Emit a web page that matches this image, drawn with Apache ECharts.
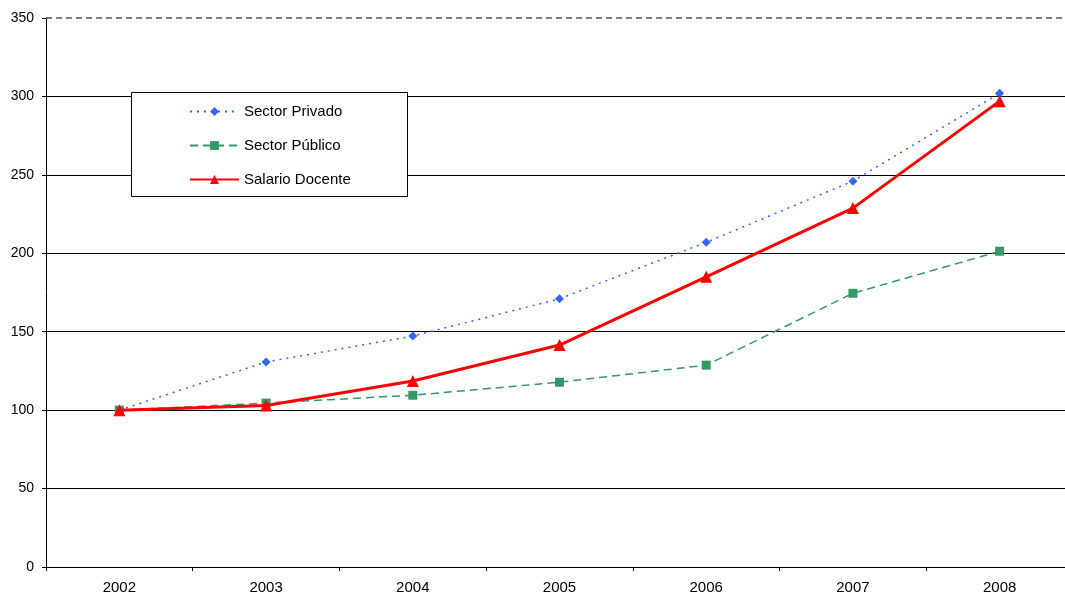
<!DOCTYPE html>
<html>
<head>
<meta charset="utf-8">
<script src="https://cdn.jsdelivr.net/npm/echarts@6/dist/echarts.min.js"></script>
<style>
  html, body { margin: 0; padding: 0; background: #fff; }
  #chart { width: 1065px; height: 596px; }
</style>
</head>
<body>
<div id="chart"></div>
<script>
// Index values (2002 = 100)
const years = ['2002', '2003', '2004', '2005', '2006', '2007', '2008'];
const sectorPrivado = [100, 130.7, 147.2, 171, 207, 246, 302];
const sectorPublico = [100, 104.5, 109.5, 117.8, 128.7, 174.5, 201.3];
const salarioDocente = [100, 103, 118.6, 141.5, 185, 228.8, 297];
const yTicks = { min: 0, max: 350, step: 50 };

const FONT = '"Liberation Sans", Arial, sans-serif';

const chart = echarts.init(document.getElementById('chart'), null, { renderer: 'canvas' });

chart.setOption({
  backgroundColor: '#fff',
  animation: false,
  textStyle: { fontFamily: FONT },
  // the plot runs slightly past the right edge of the canvas
  grid: {
    left: 46, top: 18, width: 1027, height: 549,
    containLabel: false,
    outerBoundsMode: 'none'
  },
  graphic: [{
    type: 'rect',
    left: 131, top: 92,
    shape: { width: 276, height: 104 },
    style: { fill: '#fff', stroke: '#000', lineWidth: 1 },
    z: 90
  }],
  legend: {
    orient: 'vertical',
    left: 189, top: 104,
    itemWidth: 49, itemHeight: 11, itemGap: 19,
    padding: 0,
    textStyle: { fontFamily: FONT, fontSize: 15, color: '#000' },
    z: 100,
    data: ['Sector Privado', 'Sector Público', 'Salario Docente']
  },
  xAxis: {
    type: 'category',
    data: years,
    boundaryGap: true,
    axisLine: { lineStyle: { color: '#000', width: 1 } },
    axisTick: { show: true, length: 4, lineStyle: { color: '#000' } },
    axisLabel: { color: '#000', fontSize: 15, fontFamily: FONT, margin: 13 },
    splitLine: { show: false }
  },
  yAxis: {
    type: 'value',
    min: yTicks.min, max: yTicks.max, interval: yTicks.step,
    axisLine: { show: true, lineStyle: { color: '#000', width: 1 } },
    axisTick: { show: true, length: 4, lineStyle: { color: '#000' } },
    axisLabel: { color: '#000', fontSize: 14, fontFamily: FONT, margin: 12 },
    splitLine: {
      show: true,
      lineStyle: { color: ['#000', '#000', '#000', '#000', '#000', '#000', '#000', 'transparent'], width: 1 }
    }
  },
  series: [
    {
      name: 'Sector Privado',
      type: 'line',
      data: sectorPrivado,
      color: '#3366ff',
      symbol: 'diamond',
      symbolSize: 9,
      lineStyle: { type: [2, 5], width: 1.5, color: '#3366ff' },
      itemStyle: { color: '#3366ff' },
      markLine: {
        silent: true,
        symbol: 'none',
        label: { show: false },
        lineStyle: { type: [6, 4], color: '#555', width: 1.5 },
        data: [{ yAxis: yTicks.max }]
      },
      z: 3
    },
    {
      name: 'Sector Público',
      type: 'line',
      data: sectorPublico,
      color: '#339966',
      symbol: 'rect',
      symbolSize: 9,
      lineStyle: { type: [8, 5], width: 1.5, color: '#339966' },
      itemStyle: { color: '#339966' },
      z: 4
    },
    {
      name: 'Salario Docente',
      type: 'line',
      data: salarioDocente,
      color: '#ff0000',
      symbol: 'triangle',
      symbolSize: 12,
      lineStyle: { type: 'solid', width: 3, color: '#ff0000' },
      itemStyle: { color: '#ff0000' },
      z: 5
    }
  ]
});
</script>
</body>
</html>
